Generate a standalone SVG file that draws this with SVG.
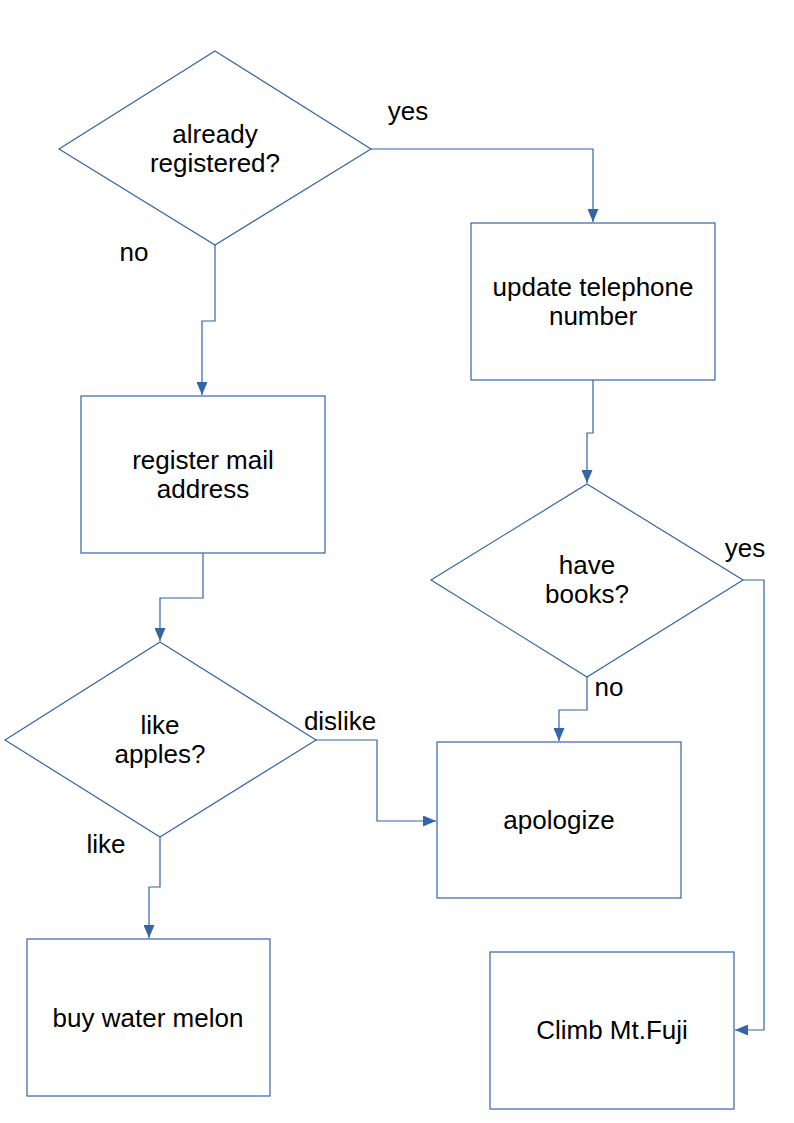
<svg xmlns="http://www.w3.org/2000/svg" width="794" height="1123" viewBox="0 0 794 1123">
<style>
.n{fill:#fff;stroke:#3465a4;stroke-width:1.2}
.c{fill:none;stroke:#3465a4;stroke-width:1.2}
text{font-family:"Liberation Sans",Arial,sans-serif;font-size:26px;fill:#000;text-anchor:middle}
</style>
<defs>
<marker id="a" viewBox="0 0 10 10" refX="10" refY="5" markerWidth="13" markerHeight="11" markerUnits="userSpaceOnUse" orient="auto" preserveAspectRatio="none">
<path d="M0,0 L10,5 L0,10 z" fill="#3465a4"/>
</marker>
</defs>
<rect width="794" height="1123" fill="#fff"/>
<g id="connectors">
<polyline class="c" points="371,149 593,149 593,222" marker-end="url(#a)"/>
<polyline class="c" points="593,380 593,433 587,433 587,483" marker-end="url(#a)"/>
<polyline class="c" points="743,580 764,580 764,1030 735,1030" marker-end="url(#a)"/>
<polyline class="c" points="587,677 587,710 559,710 559,741" marker-end="url(#a)"/>
<polyline class="c" points="215,245 215,321 202,321 202,395" marker-end="url(#a)"/>
<polyline class="c" points="203,553 203,598 160,598 160,641" marker-end="url(#a)"/>
<polyline class="c" points="316,740 377,740 377,821 436,821" marker-end="url(#a)"/>
<polyline class="c" points="160,837 160,887 149,887 149,938" marker-end="url(#a)"/>
</g>
<g id="labels">
<text x="408" y="120">yes</text>
<text x="134" y="261">no</text>
<text x="745" y="557">yes</text>
<text x="609" y="696">no</text>
<text x="340" y="730">dislike</text>
<text x="106" y="853">like</text>
</g>
<g id="registered">
<polygon class="n" points="215,51 371,149 215,245 59,149"/>
<text x="215" y="143">already</text>
<text x="215" y="172">registered?</text>
</g>
<g id="update">
<rect class="n" x="471" y="223" width="244" height="157"/>
<text x="593" y="296">update telephone</text>
<text x="593" y="325">number</text>
</g>
<g id="books">
<polygon class="n" points="587,484 743,580 587,677 431,580"/>
<text x="587" y="574">have</text>
<text x="587" y="603">books?</text>
</g>
<g id="register">
<rect class="n" x="81" y="396" width="244" height="157"/>
<text x="203" y="469">register mail</text>
<text x="203" y="498">address</text>
</g>
<g id="apples">
<polygon class="n" points="160,642 316,740 160,837 5,740"/>
<text x="160" y="734">like</text>
<text x="160" y="763">apples?</text>
</g>
<g id="apologize">
<rect class="n" x="437" y="742" width="244" height="156"/>
<text x="559" y="829">apologize</text>
</g>
<g id="melon">
<rect class="n" x="27" y="939" width="243" height="157"/>
<text x="148" y="1027">buy water melon</text>
</g>
<g id="fuji">
<rect class="n" x="490" y="952" width="244" height="157"/>
<text x="612" y="1039">Climb Mt.Fuji</text>
</g>
</svg>
